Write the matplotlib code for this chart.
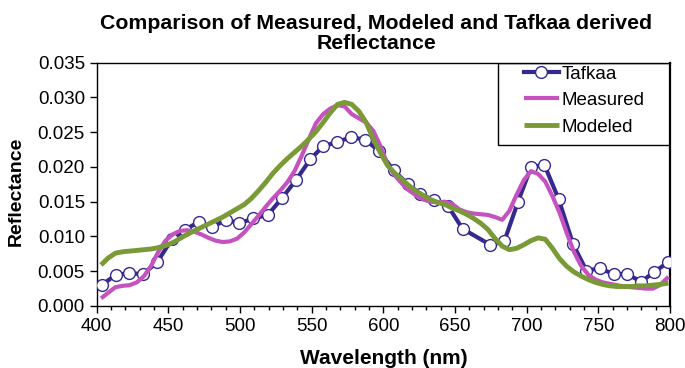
import matplotlib
matplotlib.use("Agg")
import matplotlib.pyplot as plt
from matplotlib.patches import Rectangle
from matplotlib.ticker import MultipleLocator, FormatStrFormatter

plt.rcParams["font.family"] = ["Liberation Sans", "DejaVu Sans"]

# Tafkaa derived reflectance (band centres, nm) - one band missing near 665 nm
tafkaa_wl = [403.5, 413.3, 422.8, 432.4, 442.2, 452.4, 461.7, 471.4, 480.3, 490.1,
             499.6, 509.4, 519.4, 529.2, 539.0, 549.0, 558.0, 568.0, 577.6, 587.4,
             597.1, 607.1, 616.9, 625.8, 635.5, 645.1, 655.3, 674.7, 684.4, 694.0,
             703.1, 712.4, 722.3, 732.4, 741.7, 751.0, 760.8, 770.1, 779.9, 789.2,
             798.7]
tafkaa_refl = [0.0030, 0.0045, 0.0047, 0.0046, 0.0063, 0.0096, 0.0110, 0.0121, 0.0113, 0.0124,
               0.0119, 0.0126, 0.0131, 0.0155, 0.0181, 0.0211, 0.0230, 0.0236, 0.0243, 0.0239,
               0.0223, 0.0195, 0.0176, 0.0161, 0.0152, 0.0144, 0.0111, 0.0088, 0.0093, 0.0150,
               0.0200, 0.0203, 0.0154, 0.0089, 0.0051, 0.0054, 0.0046, 0.0046, 0.0035, 0.0049,
               0.0063]

# measured and modeled spectra, 5 nm steps
spec_wl = [403, 408, 413, 418, 423, 428, 433, 438, 443, 448,
           453, 458, 463, 468, 473, 478, 483, 488, 493, 498,
           503, 508, 513, 518, 523, 528, 533, 538, 543, 548,
           553, 558, 563, 568, 573, 578, 583, 588, 593, 598,
           603, 608, 613, 618, 623, 628, 633, 638, 643, 648,
           653, 658, 663, 668, 673, 678, 683, 688, 693, 698,
           703, 708, 713, 718, 723, 728, 733, 738, 743, 748,
           753, 758, 763, 768, 773, 778, 783, 788, 793, 799]
measured_refl = [0.0011, 0.0019, 0.0027, 0.0029, 0.0030, 0.0034, 0.0043, 0.0058, 0.0078, 0.0094,
                 0.0103, 0.0108, 0.0109, 0.0107, 0.0103, 0.0098, 0.0094, 0.0092, 0.0093, 0.0097,
                 0.0106, 0.0118, 0.0130, 0.0143, 0.0155, 0.0166, 0.0178, 0.0194, 0.0216, 0.0240,
                 0.0263, 0.0276, 0.0284, 0.0289, 0.0287, 0.0276, 0.0270, 0.0264, 0.0252, 0.0230,
                 0.0203, 0.0188, 0.0176, 0.0166, 0.0159, 0.0153, 0.0150, 0.0149, 0.0150, 0.0147,
                 0.0139, 0.0135, 0.0133, 0.0132, 0.0131, 0.0128, 0.0124, 0.0137, 0.0160, 0.0181,
                 0.0194, 0.0190, 0.0179, 0.0158, 0.0134, 0.0105, 0.0078, 0.0058, 0.0045, 0.0038,
                 0.0034, 0.0032, 0.0030, 0.0028, 0.0027, 0.0026, 0.0025, 0.0025, 0.0030, 0.0042]
modeled_refl = [0.0059, 0.0069, 0.0076, 0.0078, 0.0079, 0.0080, 0.0081, 0.0082, 0.0084, 0.0087,
                0.0091, 0.0097, 0.0103, 0.0108, 0.0113, 0.0118, 0.0123, 0.0128, 0.0134, 0.0140,
                0.0146, 0.0155, 0.0166, 0.0178, 0.0191, 0.0202, 0.0212, 0.0221, 0.0230, 0.0240,
                0.0251, 0.0264, 0.0278, 0.0290, 0.0293, 0.0290, 0.0280, 0.0264, 0.0240, 0.0220,
                0.0202, 0.0191, 0.0182, 0.0173, 0.0165, 0.0159, 0.0153, 0.0149, 0.0146, 0.0141,
                0.0137, 0.0132, 0.0126, 0.0119, 0.0110, 0.0097, 0.0086, 0.0081, 0.0083, 0.0088,
                0.0094, 0.0098, 0.0096, 0.0083, 0.0068, 0.0057, 0.0049, 0.0043, 0.0038, 0.0034,
                0.0031, 0.0029, 0.0028, 0.0028, 0.0028, 0.0029, 0.0029, 0.0030, 0.0031, 0.0033]

fig = plt.figure(figsize=(6.85, 3.68), dpi=100)
ax = fig.add_axes([0.1412, 0.1685, 0.8368, 0.6611])

l_taf, = ax.plot(tafkaa_wl, tafkaa_refl, "-o", color="#35288F", lw=3,
                 ms=8.5, mfc="white", mec="#35288F", mew=1.0, label="Tafkaa", zorder=3)
l_meas, = ax.plot(spec_wl, measured_refl, "-", color="#C652C0", lw=3,
                  label="Measured", zorder=4, solid_capstyle="butt")
l_mod, = ax.plot(spec_wl, modeled_refl, "-", color="#799A36", lw=3.5,
                 label="Modeled", zorder=5, solid_capstyle="butt")

ax.set_xlim(400, 800)
ax.set_ylim(0, 0.035)
ax.xaxis.set_major_locator(MultipleLocator(50))
ax.xaxis.set_minor_locator(MultipleLocator(10))
ax.yaxis.set_major_locator(MultipleLocator(0.005))
ax.yaxis.set_major_formatter(FormatStrFormatter("%.3f"))
ax.tick_params(which="major", direction="out", length=5, width=1, labelsize=13.5)
ax.tick_params(which="minor", direction="out", length=3, width=1)
for s in ax.spines.values():
    s.set_linewidth(1.0)
ax.spines["right"].set_linewidth(1.6)

ax.set_title("Comparison of Measured, Modeled and Tafkaa derived\nReflectance",
             fontsize=15.3, fontweight="bold", pad=10, linespacing=1.05, x=0.488)
ax.set_xlabel("Wavelength (nm)", fontsize=15, fontweight="bold", labelpad=10)
ax.set_ylabel("Reflectance", fontsize=14, fontweight="bold")
ax.yaxis.set_label_coords(-0.125, 0.47)

# boxed legend in the upper right corner
ax.add_patch(Rectangle((0.70, 0.662), 0.30, 0.338, transform=ax.transAxes,
                       fill=False, edgecolor="black", lw=1.0, zorder=6))
ax.legend(handles=[l_taf, l_meas, l_mod], loc="upper left",
          bbox_to_anchor=(0.735, 1.012), frameon=False, fontsize=13.5,
          handlelength=1.9, handletextpad=0.1, labelspacing=0.5,
          borderaxespad=0, borderpad=0.3)

fig.savefig("out.png", dpi=100)
